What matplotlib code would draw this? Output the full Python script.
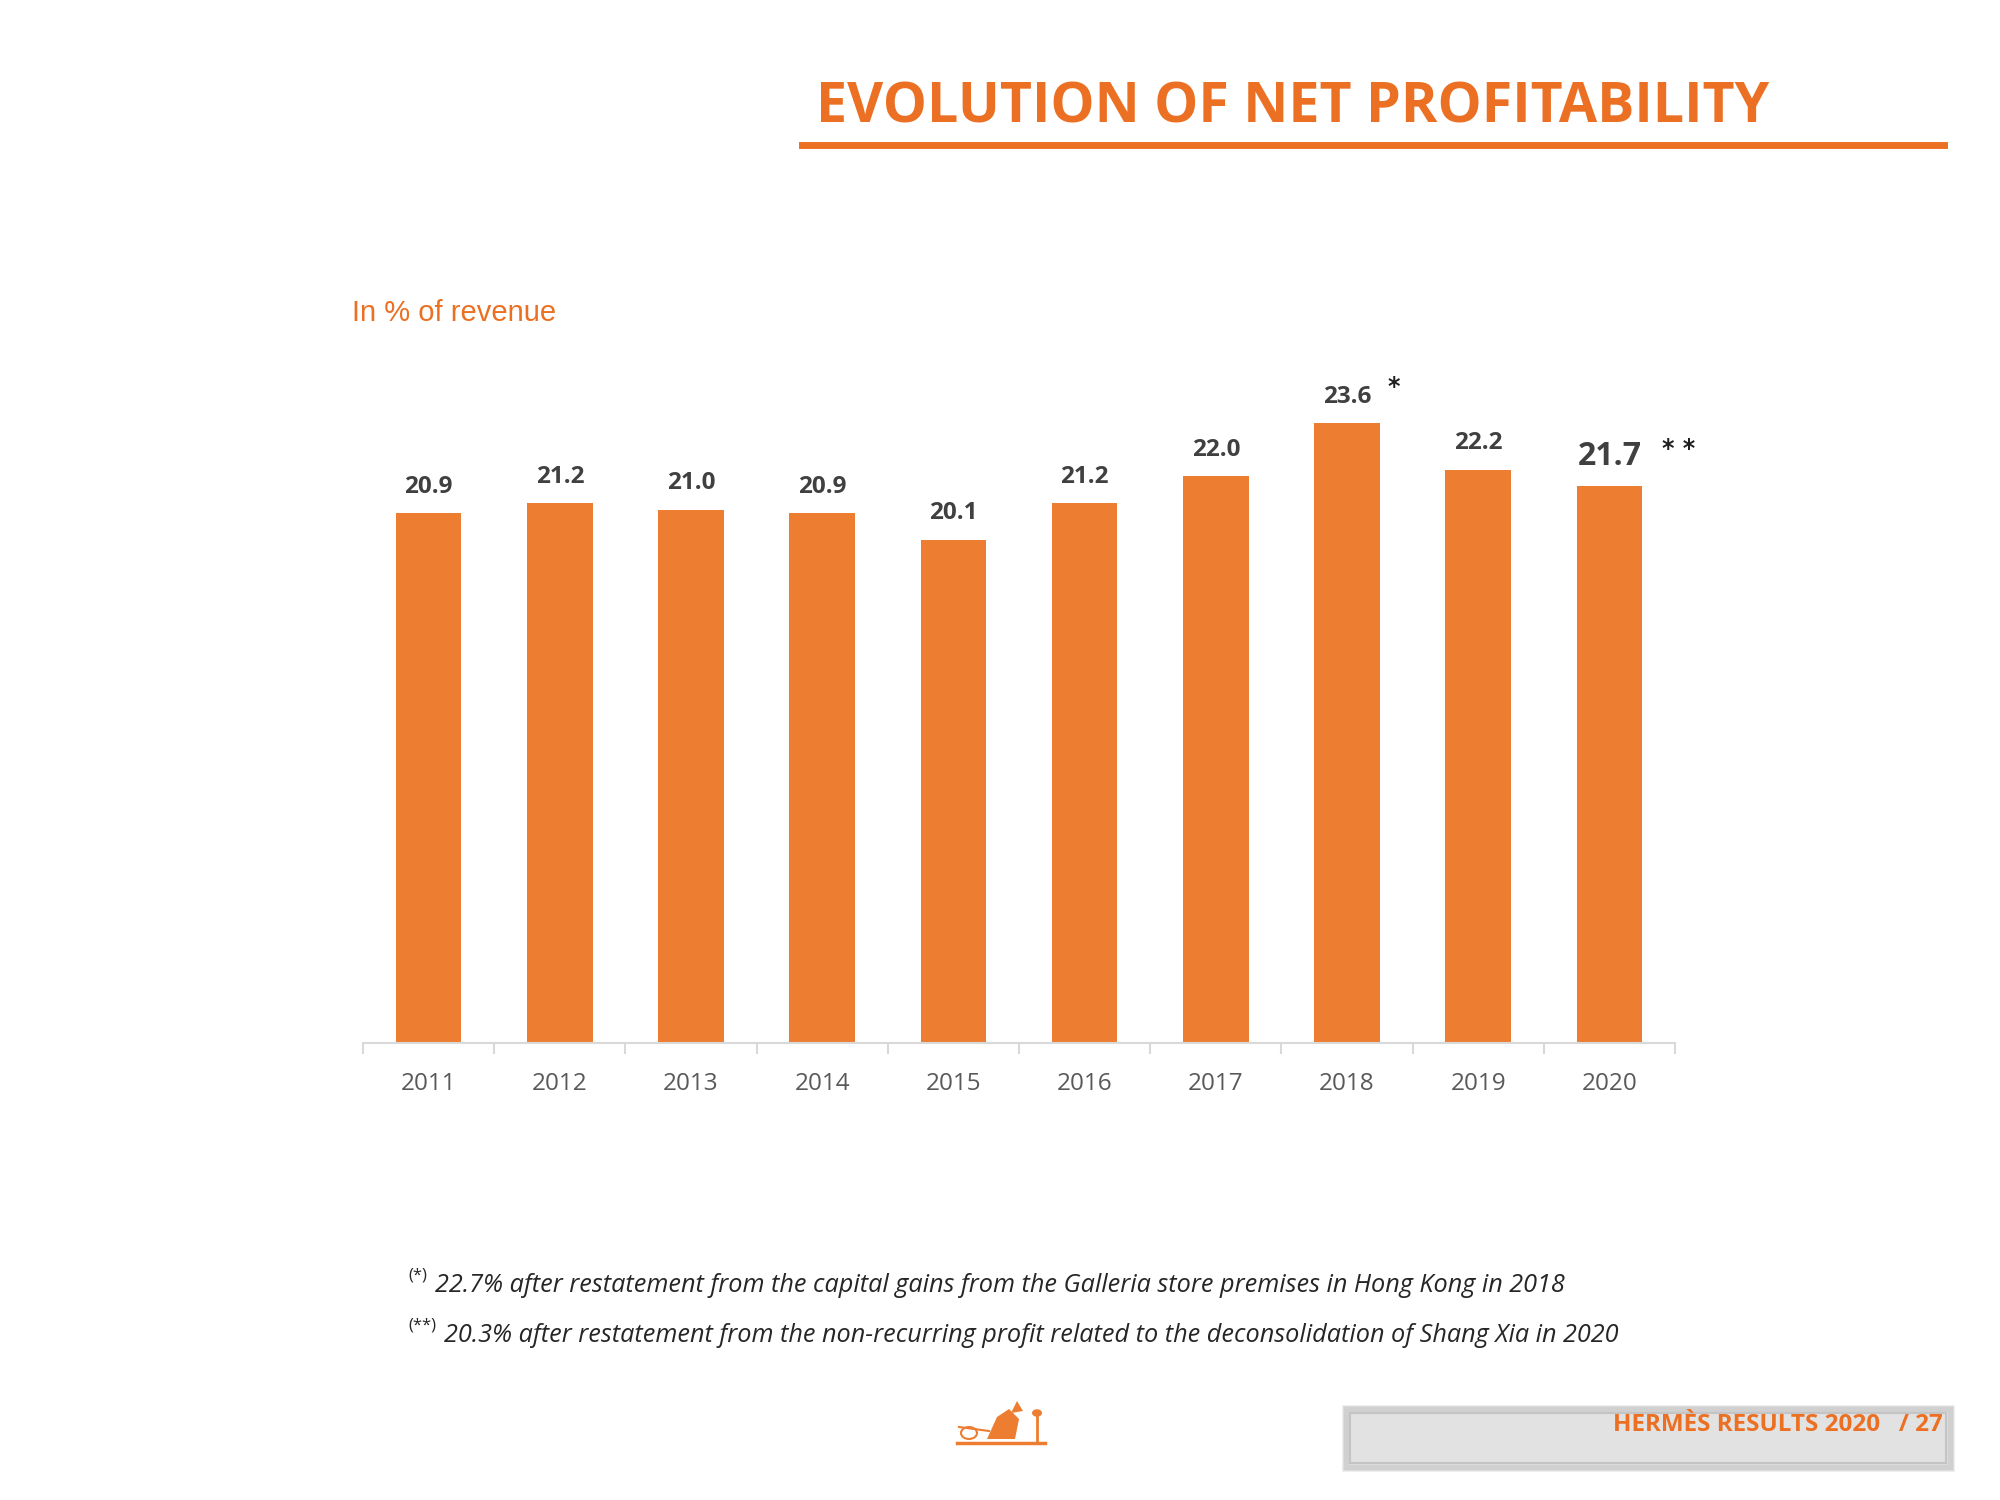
import numpy as np
import matplotlib.pyplot as plt
from matplotlib.patches import FancyBboxPatch, Circle, Polygon

years = ['2011', '2012', '2013', '2014', '2015', '2016', '2017', '2018', '2019', '2020']
margin = [20.9, 21.2, 21.0, 20.9, 20.1, 21.2, 22.0, 23.6, 22.2, 21.7]
value_labels = ['20.9', '21.2', '21.0', '20.9', '20.1', '21.2', '22.0', '23.6', '22.2', '21.7']
notes = {'2018': '*', '2020': '* *'}

title = 'EVOLUTION OF NET PROFITABILITY'
subtitle = 'In % of revenue'
footnote1 = '22.7% after restatement from the capital gains from the Galleria store premises in Hong Kong in 2018'
footnote2 = '20.3% after restatement from the non-recurring profit related to the deconsolidation of Shang Xia in 2020'
footer = 'HERMÈS RESULTS 2020   / 27'

orange = '#ED7D31'
title_orange = '#EC7023'
dark = '#404040'

W, H = 2000, 1500
fig = plt.figure(figsize=(20, 15), dpi=100)

def fx(px):
    return px / W

def fy(py):
    return 1 - py / H

# chart area
ax = fig.add_axes([fx(363), fy(1043), fx(1675) - fx(363), fy(338) - fy(1043)])
x = np.arange(len(years))
ax.bar(x, margin, width=0.5, bottom=0, color=orange, zorder=2)
ax.set_ylim(5, 26.15)
ax.set_xlim(-0.5, len(years) - 0.5)

for i, (v, lab) in enumerate(zip(margin, value_labels)):
    big = years[i] == '2020'
    ax.annotate(lab, (i, v), xytext=(0, 21.5 if big else 19), textcoords='offset points',
                ha='center', va='center', fontsize=23 if big else 17.5, fontweight='bold',
                color=dark, family='Open Sans')
    if years[i] in notes:
        dx = 50 if big else 34
        ax.annotate(notes[years[i]], (i, v), xytext=(dx, 27 if big else 26), textcoords='offset points',
                    ha='center', va='center', fontsize=17, fontweight='bold',
                    color='#202020', family='DejaVu Sans')

for s in ['top', 'left', 'right']:
    ax.spines[s].set_visible(False)
ax.spines['bottom'].set_color('#d9d9d9')
ax.spines['bottom'].set_linewidth(1.5)
ax.set_yticks([])
ax.set_xticks(x)
ax.set_xticklabels(years, fontsize=17.5, color='#595959', family='Open Sans')
ax.tick_params(axis='x', which='major', length=0, pad=21)
ax.set_xticks(np.arange(-0.5, len(years)), minor=True)
ax.tick_params(axis='x', which='minor', length=8, width=1.5, color='#d9d9d9')

# title and rule
fig.text(fx(816), fy(108), title, fontsize=40, fontweight='bold', color=title_orange,
         family='Open Sans', ha='left', va='center')
fig.add_artist(plt.Line2D([fx(802), fx(1944)], [fy(145), fy(145)], color=title_orange, linewidth=5))

fig.text(fx(352), fy(313), subtitle, fontsize=21, color=title_orange, family='Liberation Sans',
         ha='left', va='center')

# footnotes
fig.text(fx(408), fy(1275), '(*)', fontsize=12, color='#262626', family='Open Sans', ha='left', va='center')
fig.text(fx(435), fy(1285), footnote1, fontsize=18.2, style='italic', color='#262626',
         family='Open Sans', ha='left', va='center')
fig.text(fx(408), fy(1326), '(**)', fontsize=12, color='#262626', family='Open Sans', ha='left', va='center')
fig.text(fx(444), fy(1336), footnote2, fontsize=18.2, style='italic', color='#262626',
         family='Open Sans', ha='left', va='center')

# footer box with soft shadow
bx0, by0, bx1, by1 = 1350, 1413, 1946, 1463
for k in range(7, 0, -1):
    fig.add_artist(FancyBboxPatch((fx(bx0 - k), fy(by1 + k)), fx(bx1 - bx0 + 2 * k), fy(by0 - k) - fy(by1 + k),
                                  boxstyle='square,pad=0', facecolor='none', edgecolor='#707070',
                                  linewidth=2, alpha=0.13, transform=fig.transFigure))
fig.add_artist(FancyBboxPatch((fx(bx0), fy(by1)), fx(bx1 - bx0), fy(by0) - fy(by1),
                              boxstyle='square,pad=0', facecolor='#e2e2e2', edgecolor='#c4c4c4',
                              linewidth=1.5, transform=fig.transFigure))
fig.text(fx(1943), fy(1425), footer, fontsize=17.5, fontweight='bold', color=title_orange,
         family='Open Sans', ha='right', va='center')

# small carriage logo
lx, ly = 957, 1443
fig.add_artist(plt.Line2D([fx(lx), fx(lx + 88)], [fy(ly), fy(ly)], color=orange, linewidth=2.5))
fig.add_artist(Circle((fx(lx + 12), fy(ly - 10)), 0.004, transform=fig.transFigure,
                      facecolor='none', edgecolor=orange, linewidth=1.5))
fig.add_artist(Polygon([(fx(lx + 30), fy(ly - 4)), (fx(lx + 40), fy(ly - 26)), (fx(lx + 52), fy(ly - 34)),
                        (fx(lx + 62), fy(ly - 24)), (fx(lx + 58), fy(ly - 4))],
                       closed=True, transform=fig.transFigure, facecolor=orange, edgecolor='none'))
fig.add_artist(Polygon([(fx(lx + 54), fy(ly - 30)), (fx(lx + 60), fy(ly - 42)), (fx(lx + 66), fy(ly - 32))],
                       closed=True, transform=fig.transFigure, facecolor=orange, edgecolor='none'))
fig.add_artist(plt.Line2D([fx(lx + 2), fx(lx + 32)], [fy(ly - 16), fy(ly - 12)], color=orange, linewidth=1.5))
fig.add_artist(plt.Line2D([fx(lx + 80), fx(lx + 80)], [fy(ly - 2), fy(ly - 26)], color=orange, linewidth=2))
fig.add_artist(Circle((fx(lx + 80), fy(ly - 30)), 0.0025, transform=fig.transFigure,
                      facecolor=orange, edgecolor='none'))

fig.savefig('out.png', dpi=100, facecolor='white')
